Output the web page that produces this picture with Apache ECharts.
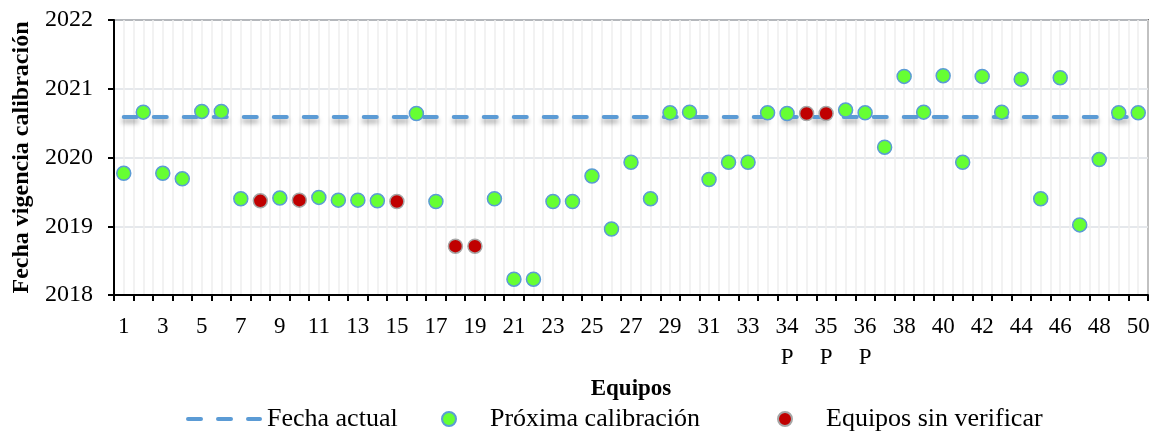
<!DOCTYPE html>
<html>
<head>
<meta charset="utf-8">
<script src="https://cdn.jsdelivr.net/npm/echarts@6/dist/echarts.min.js"></script>
<style>
html,body{margin:0;padding:0;background:#fff;}
#chart{width:1155px;height:433px;}
</style>
</head>
<body>
<div id="chart"></div>
<script>
// Equipment labels (x categories)
const categories = ['1','2','3','4','5','6','7','8','9','10','11','12','13','14','15','16','17','18','19','20',
  '21','22','23','24','25','26','27','28','29','30','31','32','33','34','34\nP','35','35\nP','36','36\nP','37',
  '38','39','40','41','42','43','44','45','46','47','48','49','50'];

// Próxima calibración (green points), null where the equipment is unverified
const proximaCalibracion = [2019.77,2020.66,2019.77,2019.69,2020.67,2020.67,2019.40,null,2019.41,null,
  2019.42,2019.38,2019.38,2019.37,null,2020.64,2019.36,null,null,2019.40,
  2018.23,2018.23,2019.36,2019.36,2019.73,2018.96,2019.93,2019.40,2020.65,2020.66,
  2019.68,2019.93,2019.93,2020.65,2020.64,null,null,2020.69,2020.65,2020.15,
  2021.18,2020.66,2021.19,2019.93,2021.18,2020.66,2021.14,2019.40,2021.16,2019.02,
  2019.97,2020.65,2020.65];

// Equipos sin verificar (red points)
const sinVerificar = [null,null,null,null,null,null,null,2019.37,null,2019.38,
  null,null,null,null,2019.36,null,null,2018.71,2018.71,null,
  null,null,null,null,null,null,null,null,null,null,
  null,null,null,null,null,2020.64,2020.64,null,null,null,
  null,null,null,null,null,null,null,null,null,null,
  null,null,null];

// Fecha actual (current date)
const fechaActualValue = 2020.59;
const fechaActual = categories.map(() => fechaActualValue);

const yTicks = [2018, 2019, 2020, 2021, 2022];

const serif = '"Liberation Serif", "Times New Roman", serif';
const chart = echarts.init(document.getElementById('chart'));

const legendCommon = {
  top: 405, padding: 0, itemHeight: 14, itemWidth: 72,
  textStyle: {fontFamily: serif, fontSize: 26, color: '#000', lineHeight: 28},
  selectedMode: false
};

chart.setOption({
  animation: false,
  backgroundColor: '#fff',
  grid: {left: 114, right: 7, top: 20, bottom: 138, show: true, borderColor: '#000', borderWidth: 1.5, backgroundColor: 'transparent'},
  legend: [
    Object.assign({}, legendCommon, {left: 186, data: ['Fecha actual'], textStyle: Object.assign({}, legendCommon.textStyle, {padding: [0,0,0,2]}),
      itemStyle: {opacity: 0},
      lineStyle: {color: '#5b9bd5', width: 4, type: [13, 17], cap: 'round', shadowBlur: 0, shadowColor: 'transparent', shadowOffsetY: 0}}),
    Object.assign({}, legendCommon, {left: 441, data: ['Próxima calibración']}),
    Object.assign({}, legendCommon, {left: 777, data: ['Equipos sin verificar']})
  ],
  xAxis: [{
    type: 'category',
    data: categories,
    boundaryGap: true,
    name: 'Equipos',
    nameLocation: 'middle',
    nameGap: 75,
    nameTextStyle: {fontFamily: serif, fontSize: 23, fontWeight: 'bold', color: '#000'},
    axisLine: {lineStyle: {color: '#000', width: 2}},
    axisTick: {show: true, inside: false, length: 6, lineStyle: {color: '#000', width: 2}, interval: 0},
    axisLabel: {interval: 1, fontFamily: serif, fontSize: 23, color: '#000', margin: 16, lineHeight: 31},
    splitLine: {show: false}
  }, {
    type: 'value',
    min: 0, max: 106, interval: 1,
    position: 'top',
    axisLine: {show: false}, axisTick: {show: false}, axisLabel: {show: false},
    splitLine: {show: true, lineStyle: {color: '#eeeeee', width: 1.5}}
  }],
  yAxis: {
    type: 'value',
    min: yTicks[0], max: yTicks[yTicks.length - 1], interval: 1,
    name: 'Fecha vigencia calibración',
    nameLocation: 'middle',
    nameGap: 78,
    nameTextStyle: {fontFamily: serif, fontSize: 24, fontWeight: 'bold', color: '#000'},
    axisLine: {show: true, lineStyle: {color: '#000', width: 2}},
    axisTick: {show: true, length: 6, lineStyle: {color: '#000', width: 2}},
    axisLabel: {fontFamily: serif, fontSize: 24, color: '#000', margin: 21, formatter: v => String(v)},
    splitLine: {show: true, lineStyle: {color: '#dde0e6', width: 1.5}}
  },
  series: [{
    name: 'Fecha actual',
    type: 'line',
    data: fechaActual,
    symbol: 'none',
    itemStyle: {color: '#5b9bd5'},
    lineStyle: {color: '#5b9bd5', width: 4, type: [13, 17], cap: 'round',
      shadowColor: 'rgba(0,0,0,0.35)', shadowBlur: 5, shadowOffsetY: 4},
    z: 2
  }, {
    name: 'Próxima calibración',
    type: 'scatter',
    data: proximaCalibracion,
    symbol: 'circle',
    symbolSize: 14,
    itemStyle: {color: '#66ff33', borderColor: '#5b9bd5', borderWidth: 1.5, opacity: 1},
    z: 3
  }, {
    name: 'Equipos sin verificar',
    type: 'scatter',
    data: sinVerificar,
    symbol: 'circle',
    symbolSize: 14,
    itemStyle: {color: '#c00000', borderColor: '#a6a6a6', borderWidth: 1.5, opacity: 1},
    z: 4
  }]
});
</script>
</body>
</html>
